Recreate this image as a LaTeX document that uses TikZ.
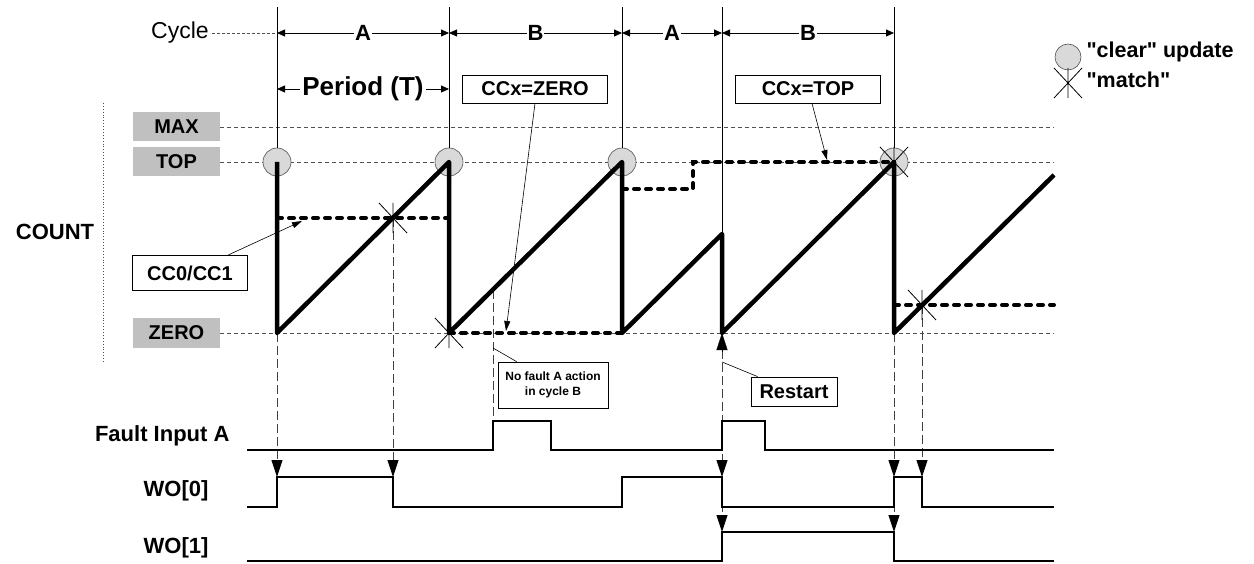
\documentclass[tikz,border=0pt]{standalone}
\usepackage{fontspec}
\setmainfont{Liberation Sans}[Ligatures=TeXOff]
\usetikzlibrary{arrows.meta, positioning, calc}
\definecolor{lvlgray}{RGB}{192, 192, 192}
\definecolor{clrgray}{RGB}{217, 217, 217}
\definecolor{gridgray}{RGB}{80, 80, 80}
% "match" mark: vertical stroke and two diagonals
\newcommand{\matchmark}[1]{\draw[line width=0.8pt, shift={(#1)}] (0,-15) -- (0,15) (-14,-15) -- (14,15) (-14,15) -- (14,-15);}

\begin{document}
\begin{tikzpicture}[
  x=1pt, y=-1pt,
  lvl/.style={fill=lvlgray, minimum width=87pt, minimum height=29pt, inner sep=0pt, font=\fontsize{20}{24}\selectfont\bfseries},
  tag/.style={draw, fill=white, line width=0.8pt, inner sep=0pt, font=\fontsize{20}{24}\selectfont\bfseries},
  clr/.style={circle, draw=gridgray, fill=clrgray, line width=0.6pt, minimum size=28pt, inner sep=0pt},
  lvlline/.style={gridgray, line width=0.7pt, dash pattern=on 4pt off 3pt},
  vline/.style={black!75, line width=0.9pt, dash pattern=on 9pt off 4pt},
  ccline/.style={line width=4pt, line cap=round, dash pattern=on 5pt off 7pt},
  saw/.style={line width=4.5pt, line join=round},
  sig/.style={line width=2.6pt},
  hit/.style={-{Triangle[length=17pt, width=11pt, color=black]}},
  dim/.style={line width=0.8pt, {Triangle[length=8pt, width=7pt]}-{Triangle[length=8pt, width=7pt]}},
  callout/.style={line width=0.6pt},
  cyclbl/.style={midway, fill=white, inner sep=1pt, font=\fontsize{22}{26}\selectfont\bfseries},
  siglabel/.style={anchor=east, font=\fontsize{22}{26}\selectfont\bfseries},
]
\useasboundingbox (0,0) rectangle (1254,564);

% Count levels
\node[lvl] (max) at (176.5,127) {MAX};
\node[lvl] (top) at (176.5,162) {TOP};
\node[lvl] (zero) at (176.5,333) {ZERO};
\draw[lvlline] (max.east) -- (1054,127);
\draw[lvlline] (top.east) -- (1054,162);
\draw[lvlline] (zero.east) -- (1054,333);
\node[font=\fontsize{22}{26}\selectfont\bfseries] (count) at (55,232) {COUNT};
\draw[gridgray, dotted, line width=0.9pt] (103,103) -- (103,362);

% "clear" update points
\node[clr] (c1) at (277,162) {};
\node[clr] (c2) at (449,162) {};
\node[clr] (c3) at (622,162) {};
\node[clr] (c4) at (894,162) {};
\draw[line width=0.7pt] (277,7) -- (c1);
\draw[line width=0.7pt] (449,7) -- (c2);
\draw[line width=0.7pt] (622,7) -- (c3);
\draw[line width=0.7pt] (722,7) -- (722,235);
\draw[line width=0.7pt] (894,7) -- (c4);

% Cycle row and period
\node[font=\fontsize{23}{27}\selectfont] (cycle) at (180,33) {Cycle};
\draw[gridgray, line width=0.7pt, dash pattern=on 3pt off 2pt] (cycle.east) -- (277,33);
\draw[dim] (277,33) -- (449,33) node[cyclbl] {A};
\draw[dim] (449,33) -- (622,33) node[cyclbl] {B};
\draw[dim] (622,33) -- (722,33) node[cyclbl] {A};
\draw[dim] (722,33) -- (894,33) node[cyclbl] {B};
\draw[dim] (277,89) -- (449,89) node[midway, fill=white, inner sep=2pt, font=\fontsize{26}{30}\selectfont\bfseries] {Period (T)};

% Event lines down to the outputs
\draw[vline, hit] (277,333) -- (277,477);
\draw[vline, hit] (393,218) -- (393,477);
\draw[vline] (493,290) -- (493,421);
\draw[vline, hit] (722,350) -- (722,477);
\draw[vline, hit] (722,477) -- (722,532);
\draw[vline, hit] (894,333) -- (894,477);
\draw[vline, hit] (894,477) -- (894,532);
\draw[vline, hit] (922,305) -- (922,477);
\draw[-{Triangle[length=17pt, width=11pt]}] (722,352) -- (722,333);

% Compare values (CC0/CC1)
\draw[ccline] (277,218) -- (449,218);
\draw[ccline] (449,333) -- (622,333);
\draw[ccline] (622,189) -- (693,189) -- (693,162) -- (894,162);
\draw[ccline] (894,305) -- (1054,305);

% Counter
\draw[saw] (277,162) -- (277,333) -- (449,162) -- (449,333) -- (622,162) -- (622,333)
  -- (722,234) -- (722,333) -- (894,162) -- (894,333) -- (1054,175);

% Matches
\matchmark{393,218}
\matchmark{449,333}
\matchmark{894,162}
\matchmark{922,305}

% Callouts
\node[tag, minimum width=115pt, minimum height=35pt] (cc01) at (190,273) {CC0/CC1};
\draw[callout, -{Triangle[length=10pt, width=6pt]}] ([xshift=38pt]cc01.north) -- (302,221);
\node[tag, minimum width=145pt, minimum height=28pt] (ccz) at (535,89) {CCx=ZERO};
\draw[callout, -{Triangle[length=10pt, width=6pt]}] (ccz.south) -- (506,331);
\node[tag, minimum width=145pt, minimum height=28pt] (cct) at (808,89) {CCx=TOP};
\draw[callout, -{Triangle[length=10pt, width=6pt]}] ([xshift=4pt]cct.south) -- (827,160);
\node[tag, minimum width=110pt, minimum height=46pt, align=center, font=\fontsize{12}{15}\selectfont\bfseries] (nofault) at (553,385) {No fault A action\\in cycle B};
\draw[callout] ([xshift=19pt]nofault.north west) -- (493,348);
\node[tag, minimum width=86pt, minimum height=29pt, font=\fontsize{20}{24}\selectfont\bfseries] (restart) at (794,391.5) {Restart};
\draw[callout] ([xshift=7pt]restart.north west) -- (722,362);

% Waveforms
\node[siglabel] (fa) at (233,436) {Fault Input A};
\node[siglabel] (wo0) at (212,491) {WO[0]};
\node[siglabel] (wo1) at (212,548) {WO[1]};
\draw[sig] (247,450) -- (493,450) -- (493,421) -- (551,421) -- (551,450) -- (722,450)
  -- (722,421) -- (765,421) -- (765,450) -- (1054,450);
\draw[sig] (247,507) -- (277,507) -- (277,477) -- (393,477) -- (393,507) -- (622,507)
  -- (622,477) -- (722,477) -- (722,507) -- (894,507) -- (894,477) -- (922,477)
  -- (922,507) -- (1054,507);
\draw[sig] (247,561) -- (722,561) -- (722,532) -- (894,532) -- (894,561) -- (1054,561);

% Legend
\node[clr, minimum size=26pt] (lgclr) at (1068,57) {};
\node[anchor=west, font=\fontsize{21.5}{25}\selectfont\bfseries] (lgclrtxt) at (1083,52) {"clear" update};
\matchmark{1068,83}
\node[anchor=west, font=\fontsize{21.5}{25}\selectfont\bfseries] (lgmatch) at (1083,80) {"match"};
\end{tikzpicture}
\end{document}
